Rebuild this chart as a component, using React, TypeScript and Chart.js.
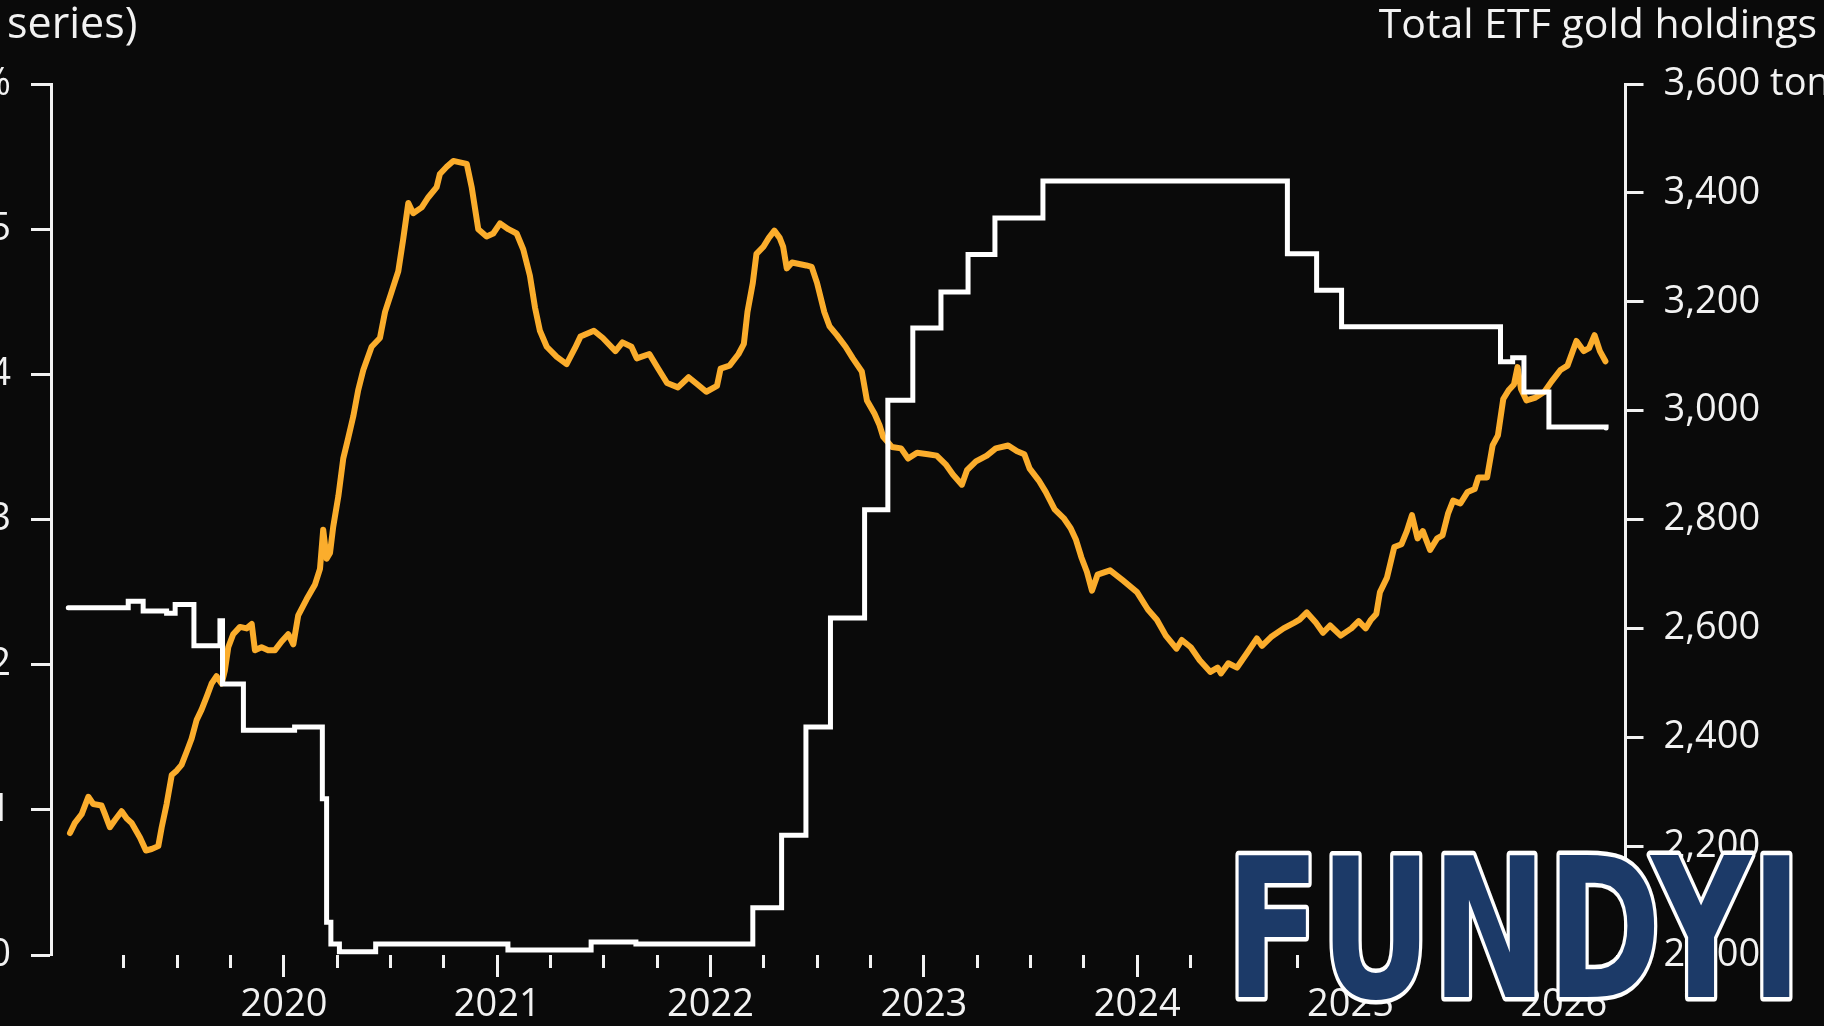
import React, { useEffect, useRef } from 'react';
import { Chart, registerables } from 'chart.js';

Chart.register(...registerables);

// ---------- data ----------
const X_MIN = 2018.908;
const X_MAX = 2026.289;

const YEAR_TICKS = [2020, 2021, 2022, 2023, 2024, 2025, 2026];
const QUARTER_TICKS = [
  2019.25, 2019.5, 2019.75, 2020, 2020.25, 2020.5, 2020.75, 2021, 2021.25, 2021.5, 2021.75,
  2022, 2022.25, 2022.5, 2022.75, 2023, 2023.25, 2023.5, 2023.75, 2024, 2024.25, 2024.5, 2024.75,
  2025, 2025.25, 2025.5, 2025.75, 2026, 2026.25,
];
const LEFT_TICKS = [0, 1, 2, 3, 4, 5, 6];
const RIGHT_TICKS = [2000, 2200, 2400, 2600, 2800, 3000, 3200, 3400, 3600];

const LEFT_TITLE = 'series)';
const RIGHT_TITLE = 'Total ETF gold holdings';
const WATERMARK = 'FUNDYI';

// yield series (%, left axis)
const YIELD_DATES = [
  2018.997, 2019.02, 2019.052, 2019.083, 2019.106, 2019.145, 2019.161, 2019.184, 2019.208, 2019.239,
  2019.263, 2019.286, 2019.325, 2019.353, 2019.38, 2019.411, 2019.427, 2019.45, 2019.474, 2019.497,
  2019.52, 2019.544, 2019.567, 2019.591, 2019.614, 2019.638, 2019.661, 2019.684, 2019.708, 2019.723,
  2019.739, 2019.762, 2019.794, 2019.825, 2019.849, 2019.864, 2019.895, 2019.926, 2019.958, 2019.989,
  2020.02, 2020.044, 2020.067, 2020.106, 2020.145, 2020.169, 2020.184, 2020.2, 2020.216, 2020.231,
  2020.255, 2020.278, 2020.301, 2020.325, 2020.348, 2020.372, 2020.411, 2020.45, 2020.474, 2020.505,
  2020.536, 2020.559, 2020.583, 2020.606, 2020.646, 2020.677, 2020.716, 2020.731, 2020.763, 2020.794,
  2020.825, 2020.857, 2020.88, 2020.911, 2020.95, 2020.981, 2021.013, 2021.052, 2021.091, 2021.122,
  2021.153, 2021.177, 2021.2, 2021.232, 2021.279, 2021.325, 2021.364, 2021.39, 2021.453, 2021.495,
  2021.554, 2021.587, 2021.629, 2021.654, 2021.713, 2021.754, 2021.796, 2021.847, 2021.897, 2021.939,
  2021.98, 2022.03, 2022.047, 2022.089, 2022.131, 2022.156, 2022.173, 2022.198, 2022.215, 2022.248,
  2022.273, 2022.299, 2022.324, 2022.34, 2022.357, 2022.382, 2022.449, 2022.474, 2022.499, 2022.533,
  2022.558, 2022.592, 2022.633, 2022.667, 2022.709, 2022.733, 2022.768, 2022.792, 2022.809, 2022.85,
  2022.893, 2022.926, 2022.968, 2023.019, 2023.06, 2023.102, 2023.136, 2023.178, 2023.202, 2023.244,
  2023.295, 2023.337, 2023.395, 2023.437, 2023.471, 2023.496, 2023.538, 2023.571, 2023.613, 2023.655,
  2023.688, 2023.713, 2023.738, 2023.764, 2023.788, 2023.814, 2023.873, 2023.933, 2023.999, 2024.05,
  2024.092, 2024.134, 2024.184, 2024.209, 2024.251, 2024.293, 2024.343, 2024.377, 2024.393, 2024.427,
  2024.468, 2024.51, 2024.561, 2024.585, 2024.627, 2024.686, 2024.737, 2024.761, 2024.795, 2024.837,
  2024.871, 2024.904, 2024.954, 2025.004, 2025.038, 2025.071, 2025.096, 2025.121, 2025.138, 2025.171,
  2025.205, 2025.239, 2025.264, 2025.288, 2025.314, 2025.339, 2025.373, 2025.406, 2025.431, 2025.457,
  2025.481, 2025.515, 2025.549, 2025.582, 2025.599, 2025.64, 2025.666, 2025.691, 2025.716, 2025.741,
  2025.766, 2025.783, 2025.799, 2025.825, 2025.867, 2025.909, 2025.942, 2025.984, 2026.017, 2026.059,
  2026.093, 2026.118, 2026.144, 2026.169, 2026.195,
];
const YIELD_VALUES = [
  0.84, 0.91, 0.97, 1.09, 1.04, 1.03, 0.97, 0.88, 0.93, 0.99,
  0.94, 0.91, 0.81, 0.72, 0.73, 0.75, 0.88, 1.04, 1.24, 1.27,
  1.31, 1.4, 1.49, 1.62, 1.69, 1.78, 1.87, 1.92, 1.87, 1.96,
  2.12, 2.21, 2.26, 2.25, 2.28, 2.1, 2.12, 2.1, 2.1, 2.16,
  2.21, 2.14, 2.34, 2.45, 2.55, 2.66, 2.93, 2.73, 2.77, 2.95,
  3.16, 3.42, 3.56, 3.71, 3.89, 4.03, 4.19, 4.25, 4.43, 4.57,
  4.71, 4.93, 5.18, 5.11, 5.15, 5.22, 5.29, 5.38, 5.43, 5.47,
  5.46, 5.45, 5.29, 5.0, 4.95, 4.97, 5.04, 5.0, 4.97, 4.86,
  4.68, 4.46, 4.3, 4.19, 4.12, 4.07, 4.18, 4.26, 4.3, 4.25,
  4.16, 4.22, 4.19, 4.11, 4.14, 4.04, 3.94, 3.91, 3.98, 3.93,
  3.88, 3.92, 4.04, 4.06, 4.14, 4.21, 4.43, 4.63, 4.83, 4.88,
  4.94, 4.99, 4.94, 4.88, 4.73, 4.77, 4.75, 4.74, 4.63, 4.43,
  4.33, 4.27, 4.19, 4.11, 4.02, 3.82, 3.73, 3.65, 3.57, 3.5,
  3.49, 3.42, 3.46, 3.45, 3.44, 3.38, 3.31, 3.24, 3.34, 3.4,
  3.44, 3.49, 3.51, 3.47, 3.45, 3.35, 3.27, 3.19, 3.07, 3.01,
  2.94, 2.86, 2.74, 2.64, 2.51, 2.62, 2.65, 2.58, 2.5, 2.38,
  2.31, 2.2, 2.11, 2.17, 2.12, 2.03, 1.95, 1.98, 1.94, 2.01,
  1.98, 2.07, 2.18, 2.13, 2.19, 2.25, 2.29, 2.31, 2.36, 2.29,
  2.22, 2.27, 2.2, 2.25, 2.3, 2.25, 2.31, 2.35, 2.5, 2.6,
  2.81, 2.83, 2.92, 3.03, 2.87, 2.92, 2.79, 2.87, 2.89, 3.04,
  3.13, 3.11, 3.19, 3.21, 3.29, 3.29, 3.51, 3.58, 3.83, 3.89,
  3.93, 4.05, 3.9, 3.82, 3.84, 3.88, 3.95, 4.03, 4.06, 4.23,
  4.16, 4.18, 4.27, 4.16, 4.09,
];

// ETF holdings (tons, right axis), each level holds until the next date
const ETF_DATES = [
  2018.989, 2019.27, 2019.34, 2019.45, 2019.49, 2019.578, 2019.7, 2019.712, 2019.81, 2020.05,
  2020.18, 2020.2, 2020.22, 2020.26, 2020.43, 2021.05, 2021.44, 2021.65, 2022.198, 2022.333,
  2022.447, 2022.562, 2022.722, 2022.831, 2022.948, 2023.08, 2023.207, 2023.333, 2023.558, 2024.704,
  2024.841, 2024.958, 2025.703, 2025.76, 2025.813, 2025.93, 2026.198,
];
const ETF_TONS = [
  2638, 2650, 2632, 2628, 2644, 2568, 2614, 2498, 2413, 2419,
  2287, 2060, 2020, 2006, 2020, 2009, 2024, 2020, 2087, 2220,
  2419, 2619, 2818, 3019, 3152, 3218, 3287, 3354, 3422, 3288,
  3221, 3154, 3090, 3097, 3034, 2970, 2968,
];

// ---------- style ----------
const BG = '#0a0a0a';
const FG = '#f2f2f2';
const ORANGE = '#fbad2c';
const FONT = '"Open Sans", "DejaVu Sans", sans-serif';
const W = 1824;
const H = 1026;

const overlayPlugin = {
  id: 'overlay',
  beforeDraw(chart: any) {
    const ctx = chart.ctx;
    ctx.save();
    ctx.fillStyle = BG;
    ctx.fillRect(0, 0, chart.width, chart.height);
    ctx.restore();
  },
  afterDraw(chart: any) {
    const ctx = chart.ctx;
    ctx.save();
    ctx.fillStyle = FG;
    ctx.textBaseline = 'alphabetic';
    ctx.font = `43px ${FONT}`;
    ctx.textAlign = 'left';
    ctx.fillText(LEFT_TITLE, 7, 38);
    ctx.font = `41px ${FONT}`;
    ctx.textAlign = 'right';
    ctx.fillText(RIGHT_TITLE, 1817, 38);

    // watermark
    ctx.font = 'bold 195px "DejaVu Sans", sans-serif';
    ctx.textAlign = 'left';
    const w = ctx.measureText(WATERMARK).width;
    ctx.translate(1226, 997);
    ctx.scale(576 / w, 1);
    ctx.lineJoin = 'round';
    ctx.lineWidth = 9;
    ctx.strokeStyle = '#ffffff';
    ctx.strokeText(WATERMARK, 0, 0);
    ctx.fillStyle = '#1c3a68';
    ctx.fillText(WATERMARK, 0, 0);
    ctx.restore();
  },
};

export default function App() {
  const ref = useRef<HTMLCanvasElement | null>(null);

  useEffect(() => {
    if (!ref.current) return;
    const tickFont = { family: FONT, size: 38 };
    const chart = new Chart(ref.current, {
      type: 'line',
      data: {
        datasets: [
          {
            label: 'Total ETF gold holdings',
            data: ETF_DATES.map((x, i) => ({ x, y: ETF_TONS[i] })),
            yAxisID: 'y1',
            xAxisID: 'x',
            borderColor: '#ffffff',
            borderWidth: 5,
            stepped: 'before',
            pointRadius: 0,
            tension: 0,
            borderCapStyle: 'round',
          },
          {
            label: 'Yield',
            data: YIELD_DATES.map((x, i) => ({ x, y: YIELD_VALUES[i] })),
            yAxisID: 'y',
            xAxisID: 'x',
            borderColor: ORANGE,
            borderWidth: 6,
            pointRadius: 0,
            tension: 0,
            borderJoinStyle: 'round',
            borderCapStyle: 'round',
          },
        ],
      },
      options: {
        responsive: false,
        animation: false,
        devicePixelRatio: 1,
        layout: { padding: { top: 84, bottom: 71, left: 0, right: 0 } },
        plugins: {
          legend: { display: false },
          tooltip: { enabled: false },
          title: { display: false },
        },
        scales: {
          x: {
            type: 'linear',
            position: { y: 0 },
            min: X_MIN,
            max: X_MAX,
            bounds: 'data',
            afterBuildTicks: (s: any) => {
              s.ticks = QUARTER_TICKS.map((v) => ({ value: v }));
            },
            ticks: { display: false, autoSkip: false },
            grid: { drawOnChartArea: false, drawTicks: true, tickLength: 13, tickWidth: 3, tickColor: FG },
            border: { display: false },
          },
          xMajor: {
            type: 'linear',
            axis: 'x',
            position: { y: 0 },
            min: X_MIN,
            max: X_MAX,
            bounds: 'data',
            afterBuildTicks: (s: any) => {
              s.ticks = YEAR_TICKS.map((v) => ({ value: v }));
            },
            ticks: {
              autoSkip: false,
              maxRotation: 0,
              padding: 5,
              color: FG,
              font: tickFont,
              callback: (v: any) => String(v),
            },
            grid: { drawOnChartArea: false, drawTicks: true, tickLength: 22, tickWidth: 3, tickColor: FG },
            border: { display: false },
          },
          y: {
            type: 'linear',
            position: 'left',
            min: 0,
            max: 6,
            afterBuildTicks: (s: any) => {
              s.ticks = LEFT_TICKS.map((v) => ({ value: v }));
            },
            afterFit: (s: any) => {
              s.width = 51;
            },
            ticks: {
              padding: 20,
              color: FG,
              font: tickFont,
              callback: (v: any) => (v === 6 ? '6%' : String(v)),
            },
            grid: { drawOnChartArea: false, drawTicks: true, tickLength: 20, tickWidth: 3, tickColor: FG },
            border: { display: true, color: FG, width: 3 },
          },
          y1: {
            type: 'linear',
            position: 'right',
            min: 2000,
            max: 3600,
            afterBuildTicks: (s: any) => {
              s.ticks = RIGHT_TICKS.map((v) => ({ value: v }));
            },
            afterFit: (s: any) => {
              s.width = W - 1625.5;
            },
            ticks: {
              padding: 20,
              color: FG,
              font: tickFont,
              callback: (v: any) =>
                v === 3600 ? '3,600 tons' : Number(v).toLocaleString('en-US'),
            },
            grid: { drawOnChartArea: false, drawTicks: true, tickLength: 18, tickWidth: 3, tickColor: FG },
            border: { display: true, color: FG, width: 3 },
          },
        },
      } as any,
      plugins: [overlayPlugin],
    });
    return () => chart.destroy();
  }, []);

  return (
    <div style={{ position: 'fixed', left: 0, top: 0, width: W, height: H, background: BG, overflow: 'hidden' }}>
      <canvas ref={ref} width={W} height={H} style={{ display: 'block', width: W, height: H }} />
    </div>
  );
}
